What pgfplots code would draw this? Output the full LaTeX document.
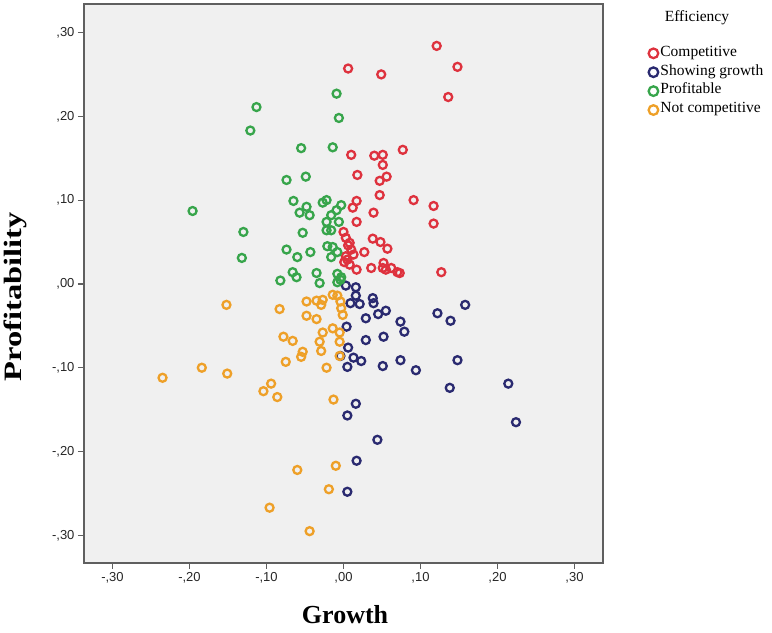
\documentclass[border=0pt]{standalone}
\usepackage{pgfplots}
\pgfplotsset{compat=1.18}
\usepackage{fontspec}
\setmainfont{Liberation Serif}
\newfontfamily\arial{Liberation Sans}
\definecolor{cred}{RGB}{222,50,62}
\definecolor{cblue}{RGB}{42,42,112}
\definecolor{cgreen}{RGB}{55,165,75}
\definecolor{corange}{RGB}{238,160,40}
\definecolor{bg}{RGB}{240,240,240}
\definecolor{frame}{RGB}{95,95,95}
\pgfplotsset{
  ringleg/.style={legend image code/.code={\path (0pt,0pt) (11pt,0pt); \draw[##1, mark size=4.8pt] plot coordinates {(5.5pt,0pt)};}},
  ring/.style={only marks, mark=o, mark size=4.0pt, line width=2.3pt, draw=#1, ringleg},
}
\begin{document}
\begin{tikzpicture}
\begin{axis}[
  scale only axis, width=519pt, height=559pt,
  xmin=-0.337, xmax=0.337, ymin=-0.333, ymax=0.334,
  axis background/.style={fill=bg},
  axis line style={draw=frame, line width=1.6pt},
  xtick={-0.3,-0.2,-0.1,0,0.1,0.2,0.3},
  xticklabels={\mbox{-,30},\mbox{-,20},\mbox{-,10},\mbox{,00},\mbox{,10},\mbox{,20},\mbox{,30}},
  ytick={-0.3,-0.2,-0.1,0,0.1,0.2,0.3},
  yticklabels={\mbox{-,30},\mbox{-,20},\mbox{-,10},\mbox{,00},\mbox{,10},\mbox{,20},\mbox{,30}},
  tick align=outside, xtick pos=bottom, ytick pos=left,
  major tick length=6pt,
  tick style={draw=frame, line width=1.2pt},
  tick label style={font=\arial\fontsize{13}{15}\selectfont, text=black!85},
  xlabel={Growth}, ylabel={\scalebox{1.3}[1]{Profitability}},
  xlabel style={font=\bfseries\fontsize{26}{30}\selectfont, at={(axis description cs:0.503,-0.093)}, anchor=center},
  ylabel style={font=\bfseries\fontsize{25}{30}\selectfont, at={(axis description cs:-0.133,0.476)}, anchor=center, rotate=0},
  legend cell align=left,
  legend style={draw=none, fill=none, at={(axis description cs:1.084,0.929)}, anchor=north west,
    font=\fontsize{15.5}{18}\selectfont, inner sep=0pt, row sep=0pt,
    nodes={inner sep=0.3pt, text height=12pt, text depth=6.3pt}},
  clip=false,
]
\addplot[ring=cred] coordinates {
(0.121,0.284)(0.148,0.259)(0.006,0.257)(0.049,0.250)(0.136,0.223)
(0.010,0.154)(0.040,0.153)(0.051,0.154)(0.077,0.160)(0.051,0.142)
(0.018,0.130)(0.056,0.128)(0.047,0.123)(0.047,0.106)(0.091,0.100)
(0.017,0.099)(0.117,0.093)(0.012,0.091)(0.039,0.085)(0.117,0.072)
(0.017,0.074)(0.000,0.062)(0.003,0.055)(0.008,0.049)(0.038,0.054)
(0.048,0.050)(0.057,0.042)(0.027,0.038)(0.010,0.041)(0.003,0.033)
(0.005,0.029)(0.001,0.026)(0.017,0.017)(0.036,0.019)(0.051,0.019)
(0.055,0.017)(0.062,0.019)(0.070,0.014)(0.073,0.013)(0.127,0.014)
(0.008,0.023)(0.052,0.025)(0.013,0.035)(0.006,0.046)
};
\addlegendentry{Competitive}
\addplot[ring=cblue] coordinates {
(0.003,-0.002)(0.016,-0.004)(0.016,-0.014)(0.009,-0.023)(0.021,-0.024)
(0.038,-0.017)(0.039,-0.023)(0.055,-0.032)(0.045,-0.036)(0.029,-0.041)
(0.074,-0.045)(0.079,-0.057)(0.122,-0.035)(0.139,-0.044)(0.158,-0.025)
(0.004,-0.051)(0.029,-0.067)(0.052,-0.063)(0.006,-0.076)(0.013,-0.088)
(0.023,-0.092)(0.005,-0.099)(0.051,-0.098)(0.074,-0.091)(0.094,-0.103)
(0.148,-0.091)(0.138,-0.124)(0.214,-0.119)(0.224,-0.165)(0.016,-0.143)
(0.005,-0.157)(0.044,-0.186)(0.017,-0.211)(0.005,-0.248)(-0.004,-0.086)
};
\addlegendentry{Showing growth}
\addplot[ring=cgreen] coordinates {
(-0.113,0.211)(-0.121,0.183)(-0.009,0.227)(-0.006,0.198)(-0.055,0.162)
(-0.014,0.163)(-0.074,0.124)(-0.049,0.128)(-0.196,0.087)(-0.065,0.099)
(-0.048,0.092)(-0.057,0.085)(-0.044,0.082)(-0.027,0.097)(-0.022,0.100)
(-0.003,0.094)(-0.009,0.088)(-0.016,0.082)(-0.022,0.074)(-0.006,0.074)
(-0.022,0.064)(-0.016,0.064)(-0.130,0.062)(-0.053,0.061)(-0.132,0.031)
(-0.074,0.041)(-0.060,0.032)(-0.043,0.038)(-0.021,0.045)(-0.014,0.044)
(-0.008,0.038)(-0.016,0.032)(-0.066,0.014)(-0.061,0.008)(-0.082,0.004)
(-0.035,0.013)(-0.031,0.001)(-0.008,0.012)(-0.003,0.008)(-0.008,0.002)
(-0.004,0.005)
};
\addlegendentry{Profitable}
\addplot[ring=corange] coordinates {
(-0.152,-0.025)(-0.083,-0.030)(-0.048,-0.021)(-0.035,-0.020)(-0.027,-0.019)
(-0.029,-0.025)(-0.014,-0.013)(-0.008,-0.014)(-0.004,-0.021)(-0.003,-0.029)
(-0.001,-0.037)(-0.048,-0.038)(-0.035,-0.042)(-0.014,-0.053)(-0.005,-0.058)
(-0.027,-0.058)(-0.031,-0.069)(-0.005,-0.069)(-0.078,-0.063)(-0.066,-0.068)
(-0.029,-0.080)(-0.053,-0.081)(-0.055,-0.087)(-0.075,-0.093)(-0.022,-0.100)
(-0.005,-0.086)(-0.184,-0.100)(-0.235,-0.112)(-0.151,-0.107)(-0.094,-0.119)
(-0.104,-0.128)(-0.086,-0.135)(-0.013,-0.138)(-0.060,-0.222)(-0.010,-0.217)
(-0.019,-0.245)(-0.096,-0.267)(-0.044,-0.295)
};
\addlegendentry{Not competitive}
\node[font=\fontsize{15.5}{18}\selectfont, anchor=center] at (axis description cs:1.181,0.975) {Efficiency};
\end{axis}
\pgfresetboundingbox
\path[use as bounding box] ([shift={(-84pt,-70pt)}]current axis.south west) rectangle ([shift={(169pt,4pt)}]current axis.north east);
\end{tikzpicture}
\end{document}
